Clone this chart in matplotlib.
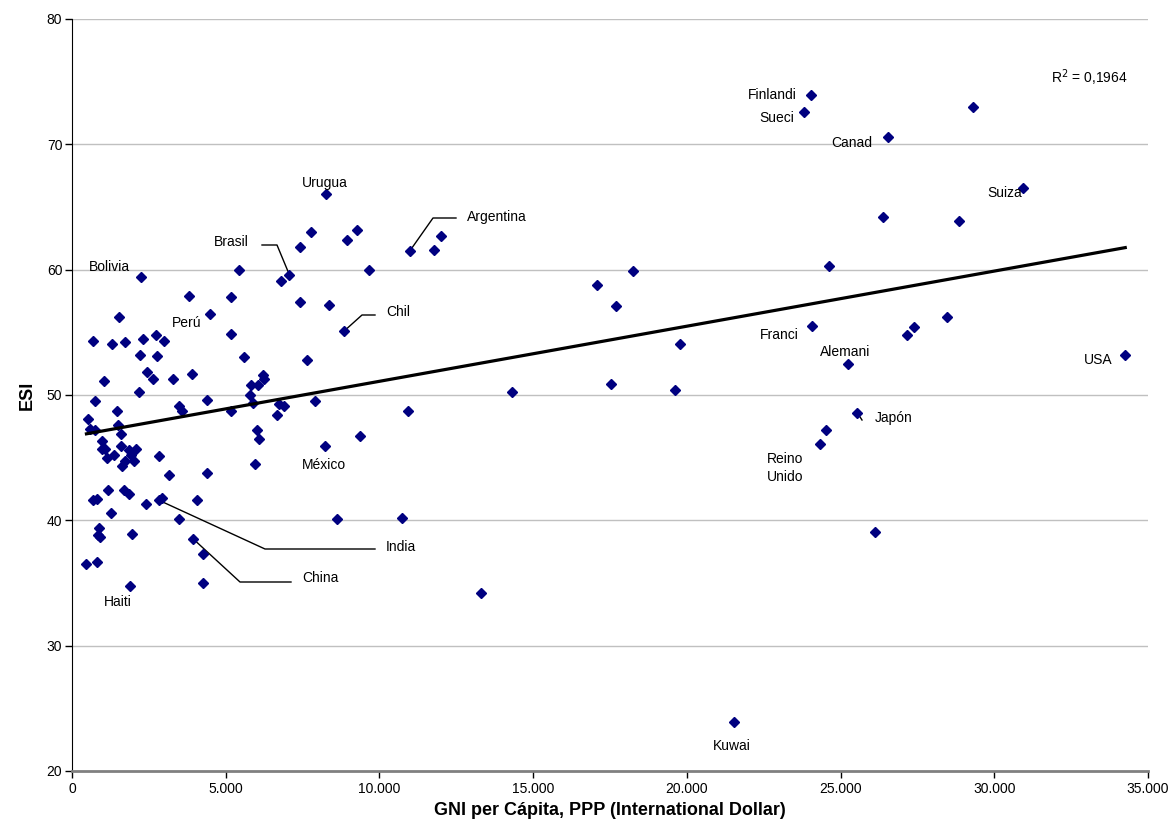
import numpy as np
import matplotlib
matplotlib.use("Agg")
import matplotlib.pyplot as plt

plt.rcParams['font.family'] = ['Liberation Sans', 'DejaVu Sans']

# GNI per capita PPP (international dollar) and ESI, one entry per country
gni = [2240, 5440, 3820, 5180, 1540, 4480, 5180, 680, 1310, 1730,
       2310, 2730, 2980, 2220, 2760, 5600, 2450, 2640, 1050, 3280,
       3890, 5820, 6060, 2180, 5780, 5900, 750, 4380, 3490, 3580,
       1460, 5160, 520, 1490, 580, 760, 1600, 980, 980, 1070,
       1580, 1840, 2090, 1920, 1360, 1130, 1730, 1630, 2030, 2830,
       6030, 6090, 5950, 3160, 4400, 1160, 1690, 1860, 680, 810,
       2420, 2830, 2920, 4060, 1260, 3490, 890, 850, 910, 1940,
       3950, 4250, 470, 800, 1880, 4270, 8250, 7760, 9260, 8940,
       7430, 10990, 9660, 7070, 6790, 7430, 8360, 8850, 7630, 6220,
       6260, 6740, 6890, 7900, 6660, 10920, 9370, 8240, 8620, 10720,
       11780, 11990, 17070, 18260, 17710, 14320, 17520, 19620, 19770, 13290,
       21520, 24040, 23800, 29320, 26530, 30950, 26370, 28840, 24630, 28460,
       24070, 27390, 27150, 25230, 34260, 25540, 24520, 24330, 26120]
esi = [59.4, 60.0, 57.9, 57.8, 56.2, 56.5, 54.9, 54.3, 54.1, 54.2,
       54.5, 54.8, 54.3, 53.2, 53.1, 53.0, 51.8, 51.3, 51.1, 51.3,
       51.7, 50.8, 50.8, 50.2, 50.0, 49.4, 49.5, 49.6, 49.1, 48.7,
       48.7, 48.7, 48.1, 47.6, 47.3, 47.2, 46.9, 46.3, 45.7, 45.7,
       45.9, 45.6, 45.7, 45.2, 45.2, 45.0, 44.7, 44.3, 44.7, 45.1,
       47.2, 46.5, 44.5, 43.6, 43.8, 42.4, 42.4, 42.1, 41.6, 41.7,
       41.3, 41.6, 41.8, 41.6, 40.6, 40.1, 39.4, 38.8, 38.7, 38.9,
       38.5, 37.3, 36.5, 36.7, 34.8, 35.0, 66.0, 63.0, 63.2, 62.4,
       61.8, 61.5, 60.0, 59.6, 59.1, 57.4, 57.2, 55.1, 52.8, 51.6,
       51.3, 49.3, 49.1, 49.5, 48.4, 48.7, 46.7, 45.9, 40.1, 40.2,
       61.6, 62.7, 58.8, 59.9, 57.1, 50.2, 50.9, 50.4, 54.1, 34.2,
       23.9, 73.9, 72.6, 73.0, 70.6, 66.5, 64.2, 63.9, 60.3, 56.2,
       55.5, 55.4, 54.8, 52.5, 53.2, 48.6, 47.2, 46.1, 39.1]
names = [""] * len(gni)
labelled = {0: "Bolivia", 83: "Brasil", 76: "Urugua", 81: "Argentina", 87: "Chil",
            97: "México", 61: "India", 70: "China", 74: "Haiti", 110: "Kuwai",
            111: "Finlandi", 112: "Sueci", 114: "Canad", 115: "Suiza", 120: "Franci",
            123: "Alemani", 124: "USA", 125: "Japón", 127: "Reino\nUnido"}
for k, v in labelled.items():
    names[k] = v

x_ticks = [0, 5000, 10000, 15000, 20000, 25000, 30000, 35000]
x_tick_labels = ["0", "5.000", "10.000", "15.000", "20.000", "25.000", "30.000", "35.000"]
y_ticks = [20, 30, 40, 50, 60, 70, 80]
r2_text = "R$^2$ = 0,1964"

gni_a = np.array(gni, dtype=float)
esi_a = np.array(esi, dtype=float)

fig = plt.figure(figsize=(11.74, 8.39), dpi=100)
ax = fig.add_axes([72/1174, 1-771/839, (1148-72)/1174, (771-19)/839])

ax.set_xlim(0, 35000)
ax.set_ylim(20, 80)
for yv in y_ticks[1:]:
    ax.axhline(yv, color='#c0c0c0', lw=1.0, zorder=0)

ax.plot(gni_a, esi_a, linestyle='none', marker='D', markersize=5.2,
        color='#000080', mec='#000080', zorder=3)

# linear trend line
slope, intercept = np.polyfit(gni_a, esi_a, 1)
xs = np.array([gni_a.min(), gni_a.max()])
ax.plot(xs, intercept + slope * xs, color='black', lw=2.3, zorder=4)

ax.set_xticks(x_ticks)
ax.set_xticklabels(x_tick_labels, fontsize=10)
ax.set_yticks(y_ticks)
ax.set_yticklabels([str(v) for v in y_ticks], fontsize=10)
ax.tick_params(axis='both', direction='out', length=5, width=1, color='black')
ax.tick_params(axis='x', pad=3)
ax.tick_params(axis='y', pad=2)
ax.spines['top'].set_visible(False)
ax.spines['right'].set_visible(False)
ax.spines['left'].set_color('black')
ax.spines['bottom'].set_color('#808080')
ax.spines['bottom'].set_linewidth(2)

ax.set_xlabel("GNI per Cápita, PPP (International Dollar)", fontsize=13, fontweight='bold', labelpad=4)
ax.set_ylabel("ESI", fontsize=13, fontweight='bold', labelpad=8)

def px2d(px, py):
    return ((px - 72) / 1076 * 35000, 80 - (py - 19) / (752 / 60))

fs = 10
# plain labels: (index, pixel x, pixel y, ha)
plain = [(0, 89, 267, 'left'), (76, 302, 183, 'left'), (97, 302, 465, 'left'),
         (74, 104, 602, 'left'), (110, 713, 746, 'left'), (111, 797, 95, 'right'),
         (112, 794, 118, 'right'), (114, 831, 143, 'left'), (115, 987, 193, 'left'),
         (120, 799, 335, 'right'), (123, 820, 352, 'left'), (124, 1113, 360, 'right'),
         (125, 875, 418, 'left'), (127, 767, 468, 'left')]
for idx, px, py, ha in plain:
    tx, ty = px2d(px, py)
    ax.text(tx, ty, names[idx], fontsize=fs, ha=ha, va='center', linespacing=1.4, zorder=5)

ax.text(*px2d(172, 323), "Perú", fontsize=fs, ha='left', va='center', zorder=5)

# labels with leader lines: (index, text px, text py, ha, corner px, corner py)
leaders = [(81, 467, 217, 'left', 433, 218), (83, 249, 242, 'right', 277, 245),
           (87, 386, 312, 'left', 362, 315), (61, 386, 547, 'left', 265, 549),
           (70, 302, 578, 'left', 240, 582)]
for idx, tpx, tpy, ha, cpx, cpy in leaders:
    tx, ty = px2d(tpx, tpy)
    ax.text(tx, ty, names[idx], fontsize=fs, ha=ha, va='center', zorder=5)
    gap = 11 if ha == 'left' else -13
    sx, sy = px2d(tpx - gap, cpy)
    cx, cy = px2d(cpx, cpy)
    ax.plot([sx, cx, gni[idx]], [sy, cy, esi[idx]], color='black', lw=1.0, zorder=2)

# short leader for Japón
jx, jy = px2d(862, 420)
ax.plot([gni[125], jx], [esi[125], jy], color='black', lw=1.0, zorder=2)

ax.text(*px2d(1051, 78), r2_text, fontsize=fs, ha='left', va='center', zorder=5)

fig.savefig("out.png", dpi=100, facecolor='white')
